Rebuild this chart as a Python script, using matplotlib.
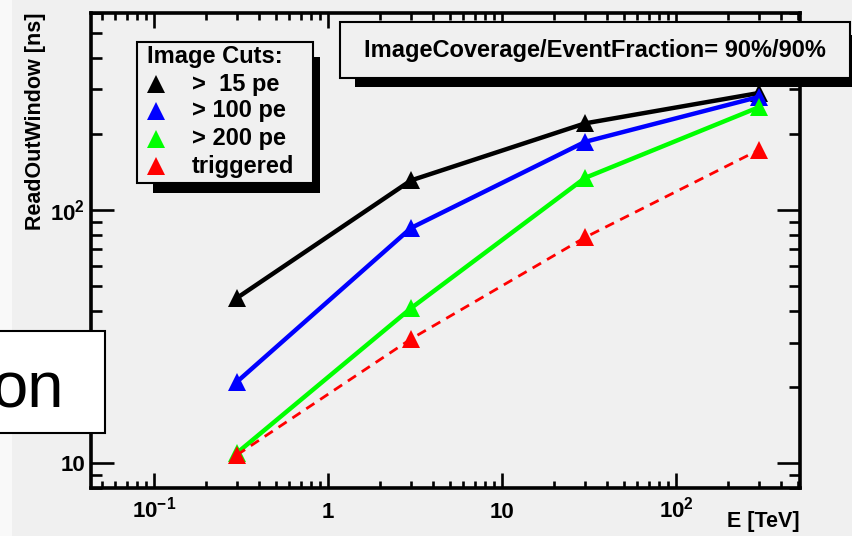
import matplotlib
matplotlib.use("Agg")
import matplotlib.pyplot as plt
from matplotlib.patches import Rectangle
from matplotlib.lines import Line2D
from matplotlib.ticker import LogLocator, NullFormatter

plt.rcParams['font.family'] = ['Liberation Sans', 'DejaVu Sans']
plt.rcParams['font.weight'] = 'bold'
plt.rcParams['mathtext.fontset'] = 'custom'
plt.rcParams['mathtext.rm'] = 'Liberation Sans:bold'
plt.rcParams['mathtext.bf'] = 'Liberation Sans:bold'
plt.rcParams['mathtext.it'] = 'Liberation Sans:bold'
plt.rcParams['mathtext.default'] = 'rm'

# ---- data -------------------------------------------------------------
energy_tev = [0.3, 3, 30, 300]
window_15pe = [45, 131, 220, 290]
window_100pe = [21, 85, 186, 280]
window_200pe = [11, 41, 134, 255]
window_triggered = [10.8, 31, 78, 173]

series_labels = [">  15 pe", "> 100 pe", "> 200 pe", "triggered"]
series_colors = ["black", "#0000ff", "#00ff00", "#ff0000"]
legend_header = "Image Cuts:"
info_text = "ImageCoverage/EventFraction= 90%/90%"

xtick_vals = [0.1, 1, 10, 100]
xtick_labels = [r"$10^{-1}$", "1", "10", r"$10^{2}$"]
ytick_vals = [10, 100]
ytick_labels = ["10", r"$10^{2}$"]
x_limits = (0.0435, 516)
y_limits = (8.0, 600)

# ---- figure ------------------------------------------------------------
W, H = 852, 536
BG = "#f0f0f0"
fig = plt.figure(figsize=(W / 100, H / 100), dpi=100, facecolor=BG)


def fx(x):
    return x / W


def fy(y):
    return 1 - y / H


def frect(x0, y0, x1, y1, **kw):
    r = Rectangle((fx(x0), fy(y1)), fx(x1) - fx(x0), fy(y0) - fy(y1),
                  transform=fig.transFigure, **kw)
    fig.add_artist(r)
    return r


# light strip at the very left edge of the canvas
frect(0, 0, 12, H, facecolor="#f9f9f9", edgecolor="none", zorder=-5)

ax = fig.add_axes([fx(91), fy(488), fx(800) - fx(91), fy(13) - fy(488)])
ax.set_facecolor(BG)
ax.set_xscale("log")
ax.set_yscale("log")
ax.set_xlim(*x_limits)
ax.set_ylim(*y_limits)

all_series = [window_15pe, window_100pe, window_200pe, window_triggered]
for vals, col in zip(all_series, series_colors):
    ls = (0, (3.5, 2.5)) if col == "#ff0000" else "-"
    lw = 2.0 if col == "#ff0000" else 3.2
    ax.plot(energy_tev, vals, color=col, lw=lw, linestyle=ls,
            marker="^", markersize=12.5, markeredgewidth=0,
            solid_capstyle="butt", clip_on=False)

for s in ax.spines.values():
    s.set_linewidth(2.6)
    s.set_color("black")

ax.set_xticks(xtick_vals, xtick_labels, fontsize=16, va="baseline")
ax.set_yticks(ytick_vals, ytick_labels, fontsize=16)
ax.xaxis.set_minor_locator(LogLocator(base=10, subs=range(2, 10), numticks=20))
ax.yaxis.set_minor_locator(LogLocator(base=10, subs=range(2, 10), numticks=20))
ax.xaxis.set_minor_formatter(NullFormatter())
ax.yaxis.set_minor_formatter(NullFormatter())

ax.tick_params(axis="x", which="major", direction="in", length=11, width=1.9,
               top=True, pad=21.5)
ax.tick_params(axis="x", which="minor", direction="in", length=5, width=1.9,
               top=True)
ax.tick_params(axis="y", which="major", direction="in", length=16.5, width=1.9,
               right=True, pad=4.0)
ax.tick_params(axis="y", which="minor", direction="in", length=8, width=1.9,
               right=True)

# axis titles, aligned to the axis ends
fig.text(fx(36), fy(12), "ReadOutWindow [ns]", rotation=90, ha="center",
         va="top", fontsize=15.5)
fig.text(fx(800), fy(522), "E [TeV]", ha="right", va="center", fontsize=15.5)

# ---- legend box with shadow -------------------------------------------
frect(153, 57, 320, 193, facecolor="black", edgecolor="none", zorder=4)
frect(137, 42, 313, 183, facecolor=BG, edgecolor="black", lw=1.5, zorder=5)
fig.text(fx(147), fy(56), legend_header, ha="left", va="center",
         fontsize=17, zorder=6)
legend_rows = [84, 111, 139, 166]
for lab, col, yrow in zip(series_labels, series_colors, legend_rows):
    fig.add_artist(Line2D([fx(156)], [fy(yrow)], transform=fig.transFigure,
                          marker="^", markersize=12.5, markeredgewidth=0,
                          color=col, linestyle="none", zorder=6))
    fig.text(fx(192), fy(yrow), lab, ha="left", va="center", fontsize=17,
             zorder=6)

# ---- info box with shadow ---------------------------------------------
frect(355, 35, 870, 87, facecolor="black", edgecolor="none", zorder=4)
frect(340, 22, 850, 78, facecolor=BG, edgecolor="black", lw=1.5, zorder=5)
fig.text(fx(595), fy(50), info_text, ha="center", va="center", fontsize=17,
         zorder=6)

# ---- overlapping white label box at the left edge ---------------------
frect(-5, 331, 105, 433, facecolor="white", edgecolor="black", lw=1.5,
      zorder=7)
fig.text(fx(-9), fy(408), "on", ha="left", va="baseline", fontsize=47,
         fontweight="normal", zorder=8)

fig.savefig("out.png", dpi=100, facecolor=BG)
